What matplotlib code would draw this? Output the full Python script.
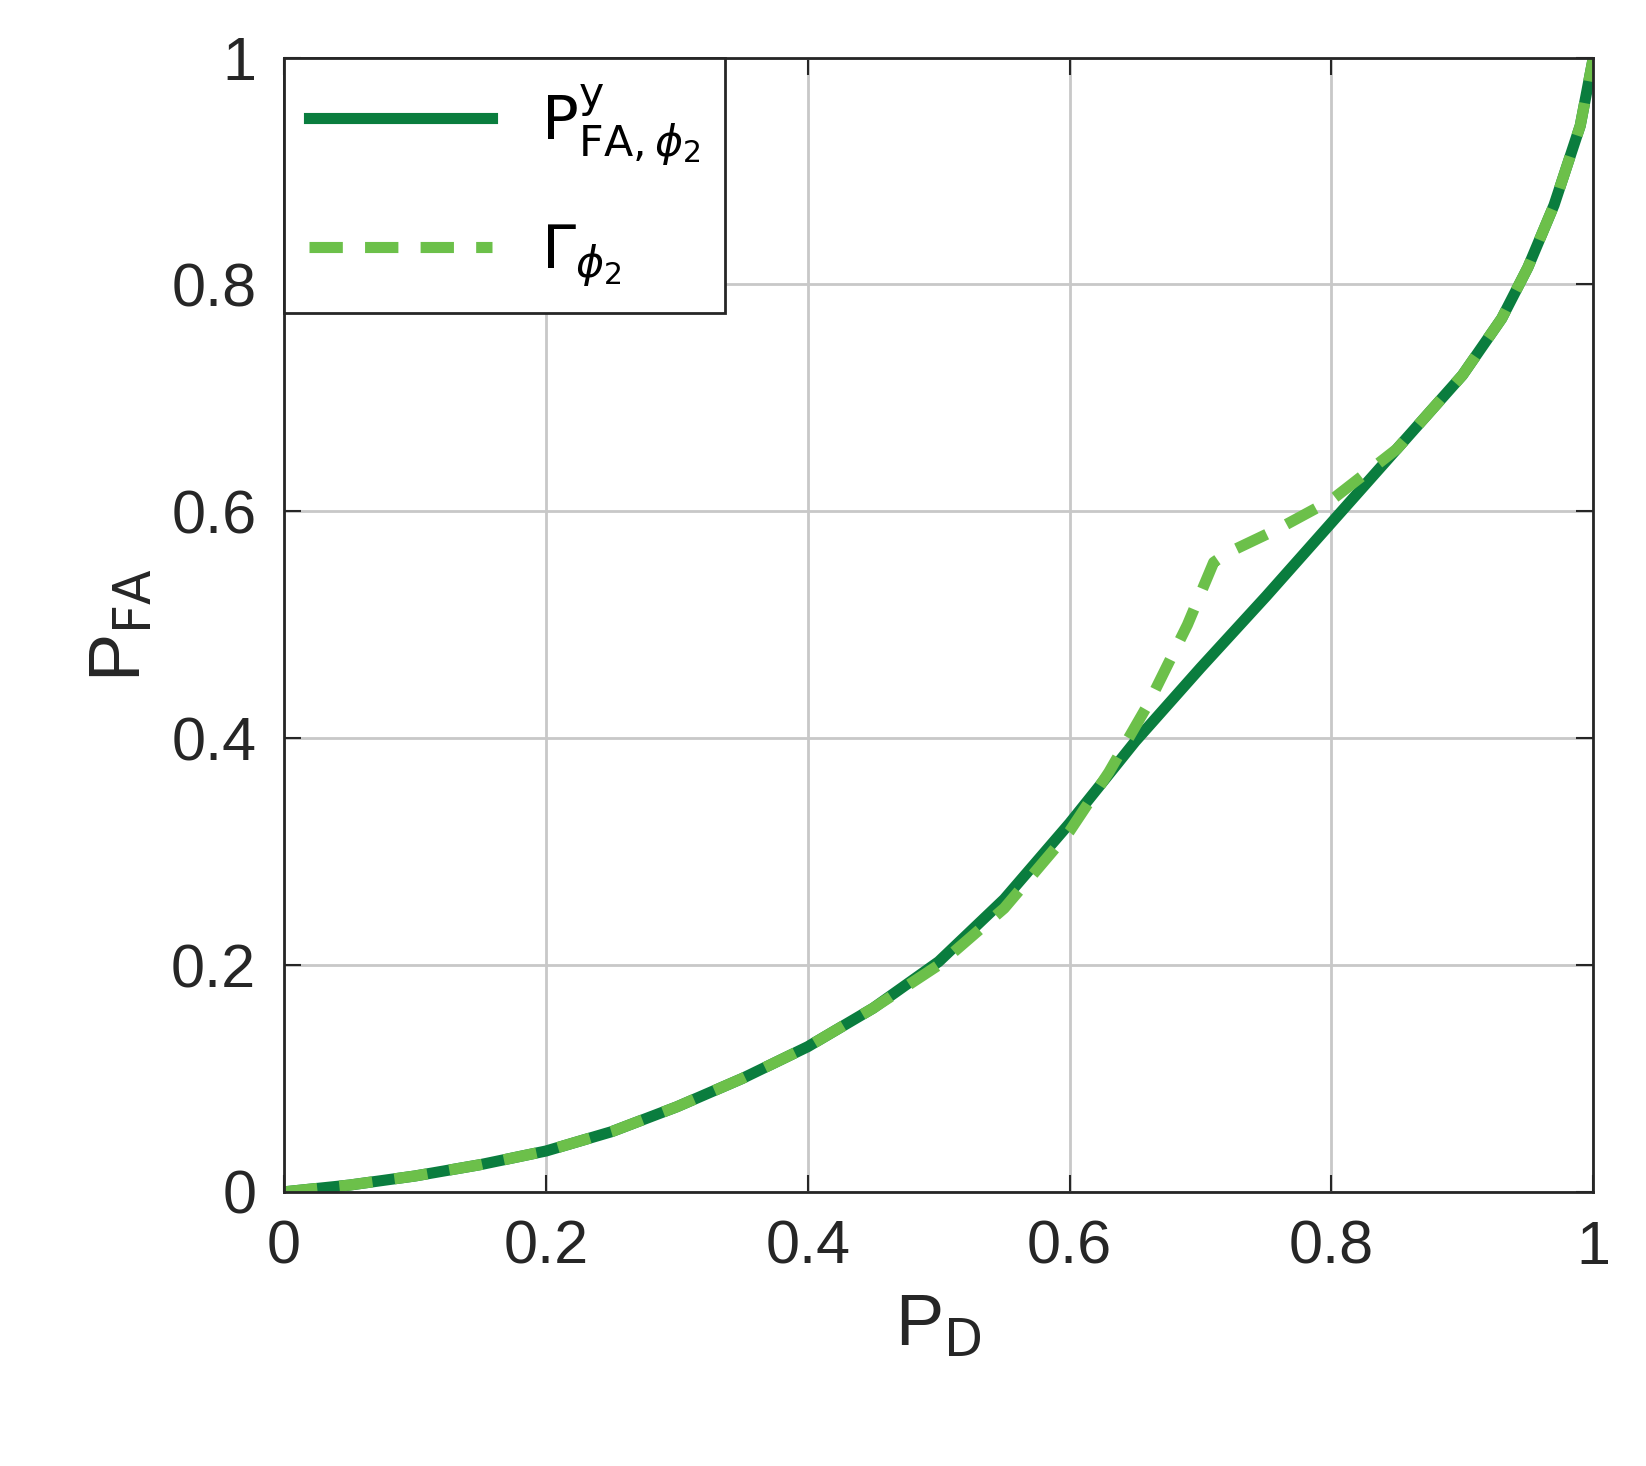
import matplotlib
matplotlib.use('Agg')
import matplotlib.pyplot as plt

# curve values
pd_solid = [0, 0.05, 0.1, 0.15, 0.2, 0.25, 0.3, 0.35, 0.4, 0.45, 0.5, 0.55, 0.6, 0.65, 0.7, 0.75, 0.8, 0.85, 0.9, 0.93, 0.95, 0.97, 0.99, 1.0]
pfa_solid = [0, 0.006, 0.014, 0.024, 0.036, 0.053, 0.075, 0.1, 0.128, 0.162, 0.203, 0.258, 0.325, 0.397, 0.462, 0.525, 0.59, 0.655, 0.72, 0.77, 0.815, 0.87, 0.94, 1.0]

pd_dash = [0, 0.05, 0.1, 0.15, 0.2, 0.25, 0.3, 0.35, 0.4, 0.45, 0.5, 0.55, 0.6, 0.63, 0.66, 0.69, 0.71, 0.72, 0.76, 0.8, 0.85, 0.9, 0.93, 0.95, 0.97, 0.99, 1.0]
pfa_dash = [0, 0.006, 0.014, 0.024, 0.036, 0.053, 0.075, 0.1, 0.128, 0.162, 0.2, 0.25, 0.318, 0.37, 0.43, 0.5, 0.555, 0.563, 0.585, 0.61, 0.655, 0.72, 0.77, 0.815, 0.87, 0.94, 1.0]

plt.rcParams['font.family'] = ['Liberation Sans', 'DejaVu Sans']
fig = plt.figure(figsize=(16.46, 14.66), dpi=100)
ax = fig.add_axes([0.1726, 0.187, 0.7954, 0.7737])

ax.plot(pd_solid, pfa_solid, color='#0a7d3e', linewidth=8, label=r'$\mathrm{P}^{\mathrm{y}}_{\mathrm{FA},\phi_2}$')
ax.plot(pd_dash, pfa_dash, color='#6cc04a', linewidth=8, linestyle=(0, (3, 2)), label=r'$\Gamma_{\phi_2}$')

ax.set_xlim(0, 1)
ax.set_ylim(0, 1)
ticks = [0, 0.2, 0.4, 0.6, 0.8, 1]
labels = ['0', '0.2', '0.4', '0.6', '0.8', '1']
ax.set_xticks(ticks, labels)
ax.set_yticks(ticks, labels)
ax.tick_params(labelsize=44, direction='in', length=12, width=1.5, colors='#262626', pad=20, top=True, right=True)
ax.grid(True, color='#c8c8c8', linewidth=2)
for s in ax.spines.values():
    s.set_linewidth(2)
    s.set_color('#262626')

ax.set_xlabel(r'P$_\mathrm{D}$', fontsize=52, color='#262626', labelpad=12)
ax.set_ylabel(r'P$_\mathrm{FA}$', fontsize=52, color='#262626', labelpad=12)

leg = ax.legend(loc='upper left', fontsize=44, borderaxespad=0, handlelength=3.0,
                fancybox=False, framealpha=1, edgecolor='#262626', labelspacing=0.9)
leg.get_frame().set_linewidth(2)

fig.savefig('out.png')
